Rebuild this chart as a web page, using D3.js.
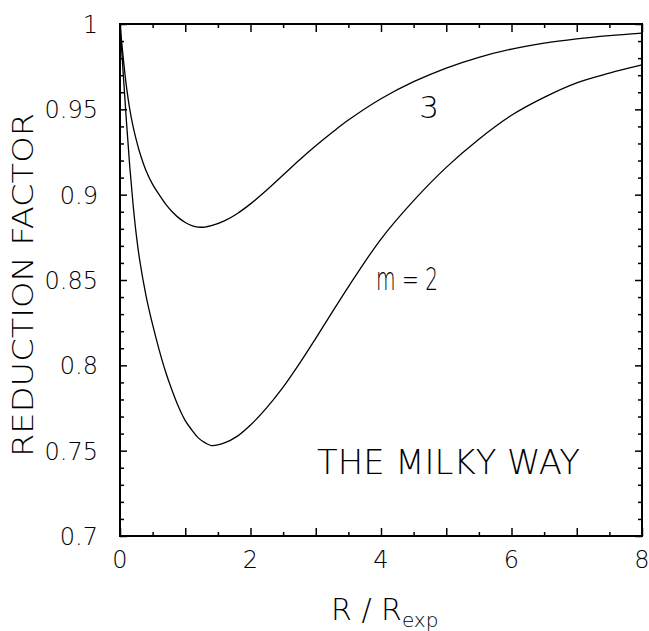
<!DOCTYPE html>
<html>
<head>
<meta charset="utf-8">
<script src="https://cdn.jsdelivr.net/npm/d3@7"></script>
<style>
  body { margin: 0; background: #fff; }
  text { font-family: "DejaVu Sans", sans-serif; font-weight: 200; fill: #000; }
</style>
</head>
<body>
<script>
// R / R_exp sample points and the two reduction factor curves
var rExp = [0, 0.05, 0.1, 0.15, 0.2, 0.25, 0.3, 0.4, 0.5, 0.6, 0.7, 0.8, 0.9, 1.0, 1.1, 1.2, 1.3, 1.4,
            1.6, 1.8, 2.0, 2.25, 2.5, 2.75, 3.0, 3.25, 3.5, 4.0, 4.5, 5.0, 5.5, 6.0, 6.5, 7.0, 7.5, 8.0];
var m2 = [1.0, 0.9705, 0.9422, 0.9164, 0.8944, 0.8764, 0.8621, 0.8406, 0.8238, 0.8091, 0.7961, 0.7851,
          0.7754, 0.7676, 0.7622, 0.7575, 0.7547, 0.7530, 0.7545, 0.7585, 0.7650, 0.7752, 0.7872, 0.8010,
          0.8158, 0.8310, 0.8460, 0.8740, 0.8965, 0.9160, 0.9325, 0.9465, 0.9570, 0.9655, 0.9712, 0.9760];
var m3 = [1.0, 0.980, 0.963, 0.950, 0.940, 0.932, 0.925, 0.914, 0.906, 0.900, 0.8945, 0.8900,
          0.8864, 0.8837, 0.8819, 0.8810, 0.8810, 0.8818, 0.8846, 0.8890, 0.8946, 0.9027, 0.9115, 0.9203,
          0.9286, 0.9364, 0.9437, 0.9562, 0.9662, 0.9742, 0.9805, 0.9853, 0.9888, 0.9913, 0.9932, 0.9947];
var xTicks = [0, 2, 4, 6, 8];
var yTicks = [0.7, 0.75, 0.8, 0.85, 0.9, 0.95, 1];

var svg = d3.select("body")
    .append("svg")
    .attr("width", 649)
    .attr("height", 631)
    .style("display", "block");

var margin = {top: 24, right: 7, bottom: 95, left: 120};
var width = 649 - margin.left - margin.right;
var height = 631 - margin.top - margin.bottom;
var g = svg.append("g").attr("transform", "translate(" + margin.left + "," + margin.top + ")");

var x = d3.scaleLinear().domain([0, 8]).range([0, width]);
var y = d3.scaleLinear().domain([0.7, 1]).range([height, 0]);

var xMinor = d3.range(0.5, 8, 1);
var xMajor = d3.range(0, 8.01, 1);
var yMinor = d3.range(70, 100.5, 1)
    .filter(function(d){ return d % 5 !== 0; })
    .map(function(d){ return d / 100; });

// inward ticks on all four sides
function ticks(axis, vals, size, tr) {
    g.append("g")
        .attr("transform", tr || null)
        .call(axis.tickValues(vals).tickSize(-size).tickSizeOuter(0).tickFormat(function(){ return ""; }))
        .call(function(s){
            s.select(".domain").remove();
            s.selectAll("line").attr("stroke", "#000").attr("stroke-width", 1.5);
        });
}
ticks(d3.axisBottom(x), xMajor, 8, "translate(0," + height + ")");
ticks(d3.axisBottom(x), xMinor, 4, "translate(0," + height + ")");
ticks(d3.axisTop(x), xMajor, 8);
ticks(d3.axisTop(x), xMinor, 4);
ticks(d3.axisLeft(y), yTicks, 7);
ticks(d3.axisLeft(y), yMinor, 4);
ticks(d3.axisRight(y), yTicks, 7, "translate(" + width + ",0)");
ticks(d3.axisRight(y), yMinor, 4, "translate(" + width + ",0)");

g.append("rect")
    .attr("width", width)
    .attr("height", height)
    .attr("fill", "none")
    .attr("stroke", "#000")
    .attr("stroke-width", 2);

// tick labels
g.selectAll(".xl")
    .data(xTicks)
    .enter().append("text")
    .attr("x", function(d){ return x(d); })
    .attr("y", height + 32)
    .attr("text-anchor", "middle")
    .style("font-size", "24px")
    .text(function(d){ return d; });

g.selectAll(".yl")
    .data(yTicks)
    .enter().append("text")
    .attr("x", -22)
    .attr("y", function(d){ return y(d) + 9; })
    .attr("text-anchor", "end")
    .style("font-size", "24px")
    .text(function(d){ return d; });

var line = d3.line()
    .x(function(d){ return x(d[0]); })
    .y(function(d){ return y(d[1]); })
    .curve(d3.curveCatmullRom.alpha(0.5));

[m2, m3].forEach(function(s){
    g.append("path")
        .datum(d3.zip(rExp, s))
        .attr("d", line)
        .attr("fill", "none")
        .attr("stroke", "#000")
        .attr("stroke-width", 1.3);
});

// curve labels
svg.append("text").attr("x", 429).attr("y", 118)
    .attr("text-anchor", "middle").style("font-size", "31px").text("3");
svg.append("text").attr("x", 376).attr("y", 290)
    .attr("textLength", 62).attr("lengthAdjust", "spacingAndGlyphs")
    .style("font-size", "32px").text("m = 2");
svg.append("text").attr("x", 317).attr("y", 474)
    .attr("textLength", 263).attr("lengthAdjust", "spacingAndGlyphs")
    .style("font-size", "33px").text("THE MILKY WAY");

// axis titles
svg.append("text")
    .attr("transform", "translate(33,285) rotate(-90)")
    .attr("text-anchor", "middle")
    .attr("textLength", 344).attr("lengthAdjust", "spacingAndGlyphs")
    .style("font-size", "28px")
    .text("REDUCTION FACTOR");

var xt = svg.append("text")
    .attr("x", 331)
    .attr("y", 620)
    .style("font-size", "30px");
xt.append("tspan").text("R / R");
xt.append("tspan").attr("dy", 7).style("font-size", "20px").text("exp");
</script>
</body>
</html>
